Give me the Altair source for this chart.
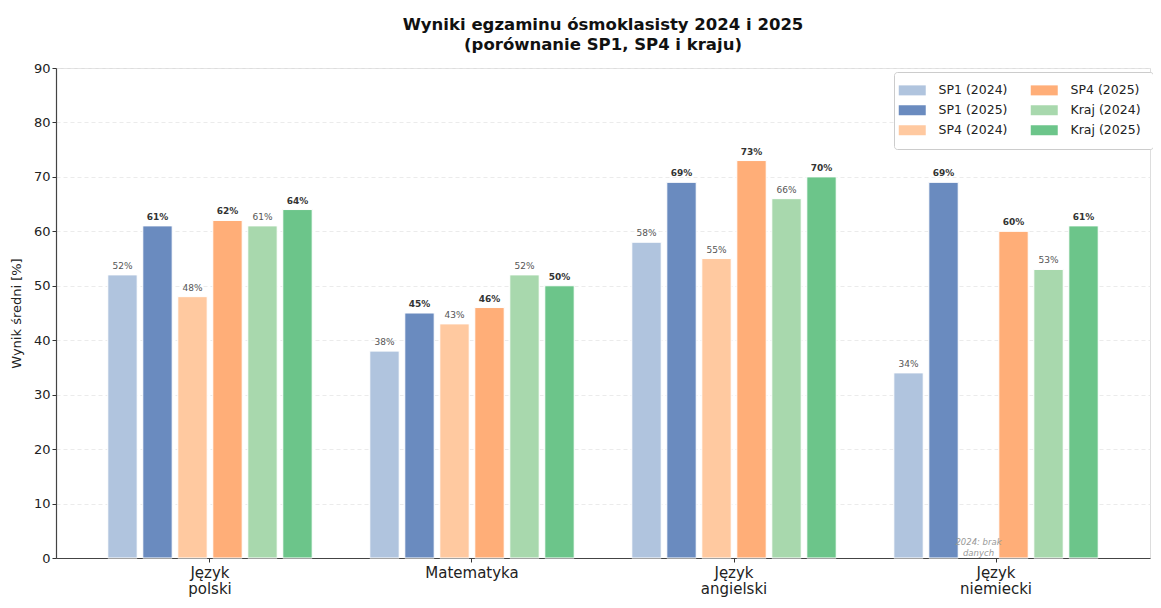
import altair as alt
import pandas as pd

subjects = ["Język polski", "Matematyka", "Język angielski", "Język niemiecki"]
series = ["SP1 (2024)", "SP1 (2025)", "SP4 (2024)", "SP4 (2025)", "Kraj (2024)", "Kraj (2025)"]
years = ["2024", "2025", "2024", "2025", "2024", "2025"]
colors = ["#b0c4de", "#6a8bbf", "#ffc9a0", "#ffae78", "#a8d8ad", "#6cc58a"]

sp1_2024 = [52, 38, 58, 34]
sp1_2025 = [61, 45, 69, 69]
sp4_2024 = [48, 43, 55, None]
sp4_2025 = [62, 46, 73, 60]
kraj_2024 = [61, 52, 66, 53]
kraj_2025 = [64, 50, 70, 61]
values = [sp1_2024, sp1_2025, sp4_2024, sp4_2025, kraj_2024, kraj_2025]

rows = []
for s, yr, vals in zip(series, years, values):
    for subj, v in zip(subjects, vals):
        rows.append({"subject": subj, "series": s, "year": yr, "value": v,
                     "label": (f"{v}%" if v is not None else "")})
df = pd.DataFrame(rows)

note_df = pd.DataFrame([{"subject": "Język niemiecki", "series": "SP4 (2024)",
                         "value": 2, "note": "2024: brak\ndanych"}])

FONT = "DejaVu Sans"

x_enc = alt.X("subject:N", sort=subjects,
              scale=alt.Scale(paddingInner=0, paddingOuter=0.0877),
              axis=alt.Axis(title=None, labelAngle=0, labelFontSize=15,
                            labelColor="#222", labelFont=FONT,
                            labelExpr="split(datum.label, ' ')",
                            labelLineHeight=16, labelPadding=3,
                            tickSize=4, tickColor="#333", domainColor="#444",
                            domainWidth=1.2, grid=False))
xo_enc = alt.XOffset("series:N", sort=series,
                     scale=alt.Scale(paddingInner=0.16, paddingOuter=0.823))
y_scale = alt.Scale(domain=[0, 90], nice=False)

bars = alt.Chart(df).mark_bar(stroke="white", strokeWidth=1).encode(
    x=x_enc,
    xOffset=xo_enc,
    y=alt.Y("value:Q", scale=y_scale,
            axis=alt.Axis(title="Wynik średni [%]", values=list(range(0, 100, 10)),
                          titleFontSize=13, titleFontWeight="normal", titleFont=FONT,
                          titleColor="#222", titlePadding=10,
                          labelFontSize=13, labelFont=FONT, labelColor="#222",
                          tickSize=4, tickColor="#333", domainColor="#444",
                          domainWidth=1.2, grid=True, gridDash=[4, 3],
                          gridColor="#e6e6e6", gridWidth=0.8)),
    color=alt.Color("series:N",
                    scale=alt.Scale(domain=series, range=colors),
                    legend=alt.Legend(title=None, orient="none", columns=2,
                                      legendX=838, legendY=4,
                                      labelFontSize=12.5, labelFont=FONT,
                                      labelColor="#222",
                                      symbolType="M-2.7,-1H2.7V1H-2.7Z",
                                      symbolSize=100, symbolStrokeWidth=0,
                                      symbolOpacity=1,
                                      columnPadding=22, rowPadding=7,
                                      labelOffset=20,
                                      padding=12, strokeColor="#cccccc",
                                      fillColor="white", cornerRadius=3)),
)

txt_base = alt.Chart(df).encode(
    x=alt.X("subject:N", sort=subjects),
    xOffset=alt.XOffset("series:N", sort=series),
    y=alt.Y("value:Q", scale=y_scale),
    text="label:N",
)

txt24 = txt_base.transform_filter(
    "datum.value != null && datum.year == '2024'"
).mark_text(baseline="bottom", dy=-4, fontSize=9, font=FONT, color="#555")

txt25 = txt_base.transform_filter(
    "datum.value != null && datum.year == '2025'"
).mark_text(baseline="bottom", dy=-4, fontSize=9, font=FONT, fontWeight="bold",
            color="#333")

note = alt.Chart(note_df).mark_text(
    baseline="bottom", fontSize=8.5, font=FONT, fontStyle="italic",
    color="#999", lineBreak="\n", lineHeight=11
).encode(
    x=alt.X("subject:N", sort=subjects),
    xOffset=alt.XOffset("series:N", sort=series),
    y=alt.Y("value:Q", scale=y_scale),
    text="note:N",
)

chart = alt.layer(bars, txt24, txt25, note).properties(
    width=1094,
    height=490,
    autosize=alt.AutoSizeParams(type="none"),
    padding={"left": 48, "top": 60, "right": 3, "bottom": 42},
    title=alt.TitleParams(
        text=["Wyniki egzaminu ósmoklasisty 2024 i 2025",
              "(porównanie SP1, SP4 i kraju)"],
        fontSize=16.5, fontWeight="bold", font=FONT, color="#111",
        anchor="middle", frame="group", offset=9, lineHeight=20,
    ),
).configure_view(stroke=None).configure(background="white")

chart.save("out.html", embed_options={"renderer": "svg", "actions": False})
